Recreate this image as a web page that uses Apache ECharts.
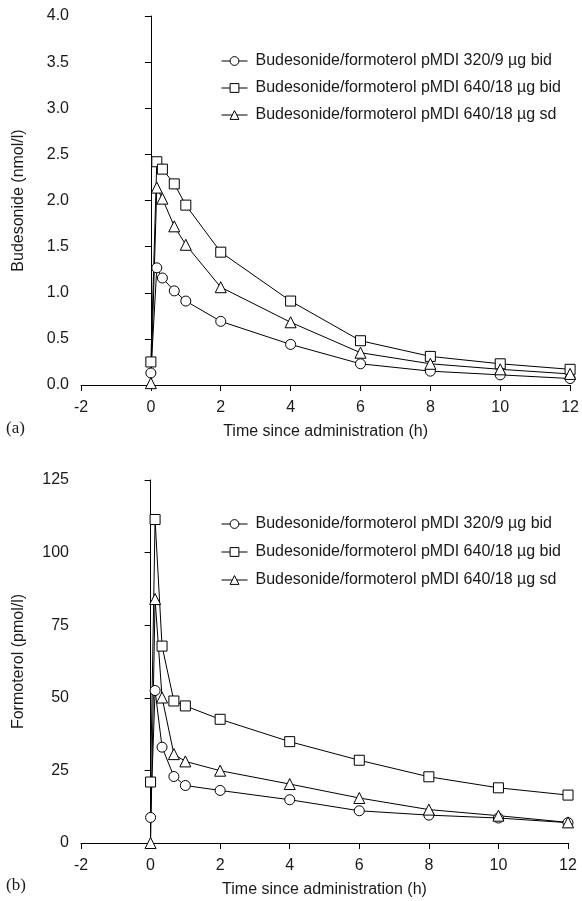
<!DOCTYPE html>
<html>
<head>
<meta charset="utf-8">
<script src="https://cdn.jsdelivr.net/npm/echarts@6/dist/echarts.min.js"></script>
<style>
html,body{margin:0;padding:0;background:#fff;}
#c{width:582px;height:901px;}
</style>
</head>
<body>
<div id="c"></div>
<script>
// Panel (a): budesonide
var timesA = [0, 0.17, 0.33, 0.67, 1, 2, 4, 6, 8, 10, 12];
var bud320bid = [0.13, 1.27, 1.16, 1.02, 0.91, 0.69, 0.44, 0.23, 0.15, 0.11, 0.07];
var bud640bid = [0.25, 2.42, 2.34, 2.18, 1.95, 1.44, 0.91, 0.48, 0.31, 0.23, 0.17];
var bud640sd  = [0.02, 2.14, 2.02, 1.72, 1.52, 1.06, 0.68, 0.35, 0.23, 0.17, 0.12];
// Panel (b): formoterol
var timesB = [0, 0.13, 0.33, 0.67, 1, 2, 4, 6, 8, 10, 12];
var for320bid = [8.8, 52.5, 33.0, 22.9, 19.8, 18.1, 14.9, 11.1, 9.6, 8.6, 7.0];
var for640bid = [21.0, 111.4, 67.8, 48.9, 47.2, 42.6, 34.9, 28.5, 22.8, 19.0, 16.5];
var for640sd  = [0, 84.0, 50.1, 30.6, 28.1, 24.9, 20.3, 15.5, 11.5, 9.4, 7.1];

var seriesNames = [
  'Budesonide/formoterol pMDI 320/9 µg bid',
  'Budesonide/formoterol pMDI 640/18 µg bid',
  'Budesonide/formoterol pMDI 640/18 µg sd'
];
var symbols = ['circle', 'rect', 'triangle'];
var xTitle = 'Time since administration (h)';
var yTitleA = 'Budesonide (nmol/l)';
var yTitleB = 'Formoterol (pmol/l)';
var panelLabels = ['(a)', '(b)'];

var FONT = "'Liberation Sans', Arial, sans-serif";
var TXT = '#1a1a1a';
var FS = 16;

function pairs(xs, ys) { return xs.map(function (x, i) { return [x, ys[i]]; }); }

function xAxisCfg(gi) {
  return {
    type: 'value', gridIndex: gi, min: -2, max: 12, interval: 2,
    name: xTitle, nameLocation: 'middle', nameGap: 39,
    nameTextStyle: { fontFamily: FONT, fontSize: FS, color: TXT },
    axisLine: { show: true, onZero: false, lineStyle: { color: '#000', width: 1 } },
    axisTick: { show: true, length: 6, lineStyle: { color: '#000' } },
    axisLabel: { fontFamily: FONT, fontSize: FS, color: TXT, margin: 15 },
    splitLine: { show: false }
  };
}
function yAxisCfg(gi, max, interval, name, fmt) {
  return {
    type: 'value', gridIndex: gi, min: 0, max: max, interval: interval,
    name: name, nameLocation: 'middle', nameGap: 54, nameRotate: 90,
    nameTextStyle: { fontFamily: FONT, fontSize: FS, color: TXT },
    axisLine: { show: true, lineStyle: { color: '#000', width: 1 } },
    axisTick: { show: true, length: 6, lineStyle: { color: '#000' } },
    axisLabel: { fontFamily: FONT, fontSize: FS, color: TXT, margin: 12, formatter: fmt },
    splitLine: { show: false }
  };
}
function mkSeries(name, sym, data, gi) {
  return {
    name: name, type: 'line', xAxisIndex: gi, yAxisIndex: gi,
    data: data, symbol: sym, symbolSize: sym === 'triangle' ? 11 : 10,
    showAllSymbol: true, silent: true, animation: false,
    lineStyle: { color: '#000', width: 1 },
    itemStyle: { color: '#fff', borderColor: '#000', borderWidth: 1 },
    z: 3
  };
}
function legendCfg(top, gap) {
  return {
    orient: 'vertical', left: 216, top: top, itemGap: gap,
    itemWidth: 26, itemHeight: 11, selectedMode: false,
    data: seriesNames,
    lineStyle: { width: 1, color: '#000' },
    itemStyle: { color: '#fff', borderColor: '#000', borderWidth: 1 },
    textStyle: { fontFamily: FONT, fontSize: FS, color: TXT, padding: [0, 0, 0, 3] }
  };
}

var chart = echarts.init(document.getElementById('c'), null, { renderer: 'canvas' });
chart.setOption({
  animation: false,
  backgroundColor: '#fff',
  legend: [legendCfg(48, 11), legendCfg(511, 12)],
  grid: [
    { left: 81, top: 16, width: 492, height: 369 },
    { left: 81, top: 480, width: 487, height: 363 }
  ],
  xAxis: [xAxisCfg(0), xAxisCfg(1)],
  yAxis: [
    yAxisCfg(0, 4, 0.5, yTitleA, function (v) { return v.toFixed(1); }),
    yAxisCfg(1, 125, 25, yTitleB, function (v) { return String(v); })
  ],
  series: [
    mkSeries(seriesNames[0], symbols[0], pairs(timesA, bud320bid), 0),
    mkSeries(seriesNames[1], symbols[1], pairs(timesA, bud640bid), 0),
    mkSeries(seriesNames[2], symbols[2], pairs(timesA, bud640sd), 0),
    mkSeries(seriesNames[0], symbols[0], pairs(timesB, for320bid), 1),
    mkSeries(seriesNames[1], symbols[1], pairs(timesB, for640bid), 1),
    mkSeries(seriesNames[2], symbols[2], pairs(timesB, for640sd), 1)
  ],
  graphic: [
    { type: 'text', left: 6, top: 420, style: { text: panelLabels[0], font: "17px 'Liberation Serif', 'Times New Roman', serif", fill: TXT } },
    { type: 'text', left: 6, top: 877, style: { text: panelLabels[1], font: "17px 'Liberation Serif', 'Times New Roman', serif", fill: TXT } }
  ]
});
</script>
</body>
</html>
